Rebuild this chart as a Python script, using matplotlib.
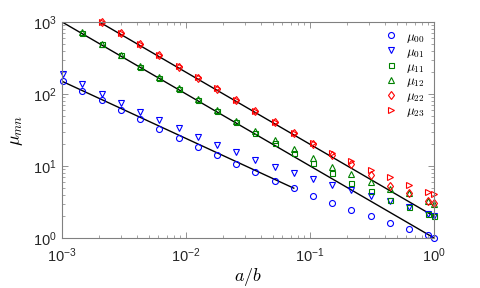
import matplotlib
matplotlib.use("Agg")
import matplotlib.pyplot as plt

plt.rcParams['font.family'] = ['Liberation Sans', 'DejaVu Sans']
plt.rcParams['mathtext.fontset'] = 'custom'
plt.rcParams['mathtext.rm'] = 'Liberation Sans'
plt.rcParams['mathtext.it'] = 'Liberation Sans:italic'

# a/b values (shared by all series)
ab = [0.00102, 0.00146, 0.00209, 0.00299, 0.00427, 0.0061, 0.00872, 0.01245,
      0.0178, 0.0254, 0.0363, 0.0519, 0.0741, 0.1059, 0.1513, 0.2161, 0.3087,
      0.441, 0.63, 0.9, 1.0]

mu00 = [150, 110, 81, 60, 45, 33, 24.7, 18.5, 14.2, 10.7, 8.2, 6.25, 4.9,
        3.83, 3.06, 2.45, 2.0, 1.63, 1.33, 1.08, 1.0]
mu01 = [190, 137, 101, 75.7, 56.8, 43.5, 33.4, 25.5, 19.6, 15.5, 12.1, 9.8,
        7.9, 6.5, 5.4, 4.6, 3.87, 3.3, 2.72, 2.15, 2.0]
# green series start at the 2nd a/b value
mu11 = [700, 490, 343, 240, 168, 117, 82, 57.5, 40.5, 29, 21, 15, 10.9, 7.9,
        5.8, 4.45, 3.37, 2.72, 2.15, 2.02]
mu12 = [720, 500, 350, 245, 172, 120, 84, 59, 42, 31, 23, 17, 12.8, 9.8,
        7.8, 6.0, 4.75, 4.15, 3.25, 3.0]
# red series start at the 3rd a/b value
mu22 = [1000, 700, 490, 343, 240, 168, 118, 83, 58, 40.5, 28.5, 20, 14.3,
        10.5, 7.5, 5.3, 4.2, 3.3, 3.1]
mu23 = [1000, 705, 495, 345, 242, 170, 119, 83.5, 58.5, 41, 29, 21, 15.2,
        11.6, 8.8, 6.9, 5.4, 4.3, 4.05]

# fitted lines (end points)
fit0_x = [0.001, 0.0741]
fit0_y = [150, 4.9]
fit1_x = [0.001, 1.0]
fit1_y = [1000, 1.0]
fit2_x = [0.002, 1.0]
fit2_y = [1000, 2.0]

blue = '#0000ff'
green = '#008000'
red = '#ff0000'

fig = plt.figure(figsize=(4.8, 2.88), dpi=100)
ax = fig.add_axes([0.129, 0.174, 0.775, 0.75])

ax.plot(fit0_x, fit0_y, color='k', lw=1.0)
ax.plot(fit1_x, fit1_y, color='k', lw=1.0)
ax.plot(fit2_x, fit2_y, color='k', lw=1.0)

mk = dict(ls='none', mfc='none', ms=4.3, mew=0.8, clip_on=False)
ax.plot(ab, mu00, marker='o', color=blue, label=r'$\mu_{00}$', **mk)
ax.plot(ab, mu01, marker='v', color=blue, label=r'$\mu_{01}$', **mk)
ax.plot(ab[1:], mu11, marker='s', color=green, label=r'$\mu_{11}$',
        ls='none', mfc='none', ms=3.6, mew=0.8, clip_on=False)
ax.plot(ab[1:], mu12, marker='^', color=green, label=r'$\mu_{12}$', **mk)
ax.plot(ab[2:], mu22, marker='d', color=red, label=r'$\mu_{22}$', **mk)
ax.plot(ab[2:], mu23, marker='>', color=red, label=r'$\mu_{23}$', **mk)

ax.set_xscale('log')
ax.set_yscale('log')
ax.set_xlim(1e-3, 1)
ax.set_ylim(1, 1e3)

for s in ax.spines.values():
    s.set_color('#808080')
    s.set_linewidth(0.8)
ax.tick_params(which='both', direction='in', top=True, right=True,
               colors='#808080', labelcolor='#262626', labelsize=10.5)
ax.tick_params(which='major', length=4, width=0.6)
ax.tick_params(which='minor', length=2.5, width=0.5)
ax.tick_params(axis='x', pad=6)

ax.set_xlabel(r'$a/b$', fontsize=13, math_fontfamily='cm', labelpad=1)
ax.set_ylabel(r'$\mu_{mn}$', fontsize=13, math_fontfamily='cm', labelpad=6)

leg = ax.legend(loc='upper right', frameon=False, fontsize=9.5,
                handletextpad=0.6, labelspacing=0.05, handlelength=1.1,
                borderaxespad=0.0, borderpad=0.0,
                bbox_to_anchor=(0.975, 0.96))
for t in leg.get_texts():
    t.set_math_fontfamily('cm')

fig.savefig('out.png', dpi=100)
